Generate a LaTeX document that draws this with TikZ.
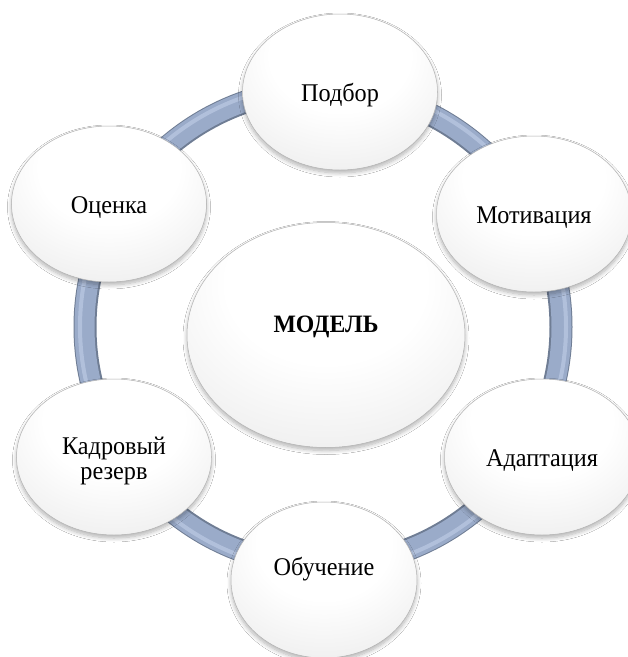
\documentclass[tikz,border=0pt]{standalone}
\usepackage{fontspec}
\setmainfont{Liberation Serif}[FakeStretch=0.95]
\usetikzlibrary{shapes.geometric,shadows.blur}
\definecolor{ringdark}{HTML}{6F7D94}
\definecolor{ringmid}{HTML}{9AABC9}
\definecolor{ringlight}{HTML}{BCCAE4}
\pgfdeclareradialshading{ballshade}{\pgfpoint{0bp}{16bp}}{color(0bp)=(white); color(18bp)=(white); color(34bp)=(black!6); color(48bp)=(black!13); color(59bp)=(black!19); color(63bp)=(black!28); color(66bp)=(black!42)}
\tikzset{
  ballnode/.style={ellipse, shading=ballshade, draw=black!30, line width=0.5pt,
    minimum width=195pt, minimum height=156pt, inner sep=0pt, align=center,
    font=\fontsize{25.5}{22}\selectfont, text height=18pt, text depth=0pt,
    blur shadow={shadow xshift=0pt, shadow yshift=-3pt, shadow opacity=30, shadow blur steps=8, shadow blur radius=4pt}}
}
\begin{document}
\begin{tikzpicture}[x=1pt,y=-1pt]
\clip (0,0) rectangle (628,657);
\fill[white] (0,0) rectangle (628,657);
% ring
\coordinate (rc) at (323,327);
\draw[ringdark, line width=23pt] (rc) circle[radius=238];
\draw[ringmid, line width=20pt] (rc) circle[radius=238.5];
\draw[ringlight, line width=4pt, opacity=0.7] (rc) circle[radius=243];
% nodes
\node[ballnode] (podbor) at (340,92) {Подбор};
\node[ballnode] (motiv) at (534,214) {Мотивация};
\node[ballnode] (adapt) at (542,457) {Адаптация};
\node[ballnode, minimum width=186pt, text depth=28pt] (obuch) at (324,580) {Обучение};
\node[ballnode, font=\fontsize{25.5}{24.5}\selectfont, text height=44pt] (kadr) at (114,457) {Кадровый\\резерв};
\node[ballnode] (ocenka) at (109,204) {Оценка};
\node[ballnode, minimum width=278pt, minimum height=225pt, text depth=24pt,
      font=\fontsize{25}{26}\selectfont\bfseries] (model) at (326,335) {МОДЕЛЬ};
\end{tikzpicture}
\end{document}
